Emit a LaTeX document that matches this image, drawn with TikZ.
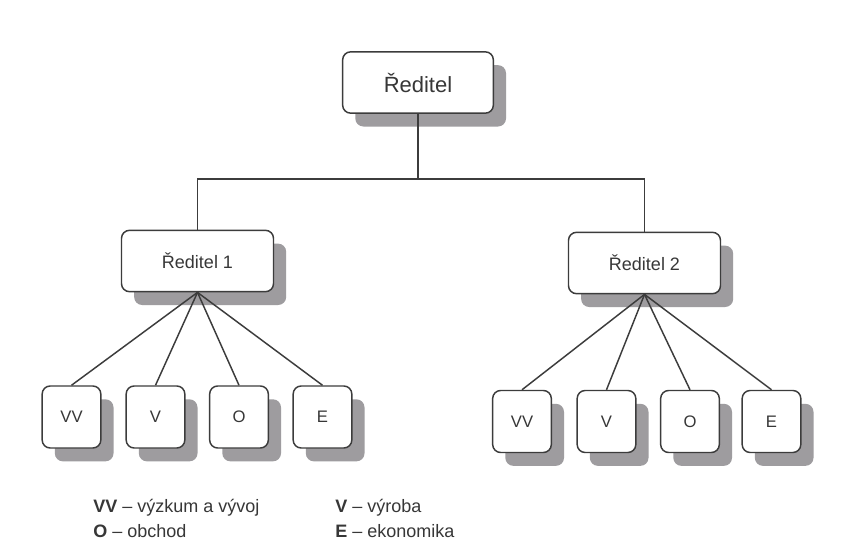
\documentclass[tikz,border=0pt]{standalone}
\usepackage{fontspec}
\setmainfont{Liberation Sans}
\usetikzlibrary{shadows}

\definecolor{lincol}{RGB}{60,60,60}
\definecolor{txtcol}{RGB}{55,55,55}
\definecolor{shcol}{RGB}{158,156,159}

\tikzset{
  orgbox/.style={draw=lincol, line width=1.1pt, rounded corners=6pt, fill=white,
    text=txtcol, align=center, inner sep=0pt,
    drop shadow={shadow xshift=9.5pt, shadow yshift=-10pt, fill=shcol, opacity=1}},
  headbox/.style={orgbox, minimum width=113pt, minimum height=46pt, font=\fontsize{16.5}{19}\selectfont},
  subbox/.style={orgbox, minimum width=114pt, minimum height=46pt, font=\fontsize{13.5}{16}\selectfont},
  unitbox/.style={orgbox, minimum width=44pt, minimum height=46.5pt, font=\fontsize{12.5}{15}\selectfont},
  conn/.style={draw=lincol, line width=1.1pt},
  legend/.style={anchor=west, text=txtcol, inner sep=0pt, font=\fontsize{13.5}{16}\selectfont}
}

\begin{document}
\begin{tikzpicture}[x=0.75pt,y=0.75pt,yscale=-1,xscale=1]
%set diagram size 857 x 553
\fill[white] (0,0) rectangle (857,553);
\useasboundingbox (0,0) rectangle (857,553);

% Head
\node[headbox] (head) at (418,82.5) {Ředitel};
\coordinate (jn) at (418,179);

% Ředitel 1 and 2
\node[subbox] (red1) at (197.5,261) {Ředitel 1};
\node[subbox] (red2) at (644.5,263) {Ředitel 2};

% Units under Ředitel 1
\node[unitbox] (l1) at (71.5,417) {VV};
\node[unitbox] (l2) at (155.5,417) {V};
\node[unitbox] (l3) at (239,417) {O};
\node[unitbox] (l4) at (322.5,417) {E};

% Units under Ředitel 2
\node[unitbox] (r1) at (522,421.5) {VV};
\node[unitbox] (r2) at (606.5,421.5) {V};
\node[unitbox] (r3) at (690,421.5) {O};
\node[unitbox] (r4) at (771.5,421.5) {E};

% Connectors
\draw[conn] (head.south) -- (jn);
\draw[conn] (red1.north) |- (jn) -| (red2.north);
\foreach \i in {1,...,4}{
  \draw[conn] (red1.south) -- (l\i.north);
  \draw[conn] (red2.south) -- (r\i.north);
}

% Legend
\node[legend] (lgvv) at (93,508) {\textbf{VV} – výzkum a vývoj};
\node[legend] (lgo) at (93,531) {\textbf{O} – obchod};
\node[legend] (lgv) at (335,508) {\textbf{V} – výroba};
\node[legend] (lge) at (335,531) {\textbf{E} – ekonomika};

\end{tikzpicture}
\end{document}
